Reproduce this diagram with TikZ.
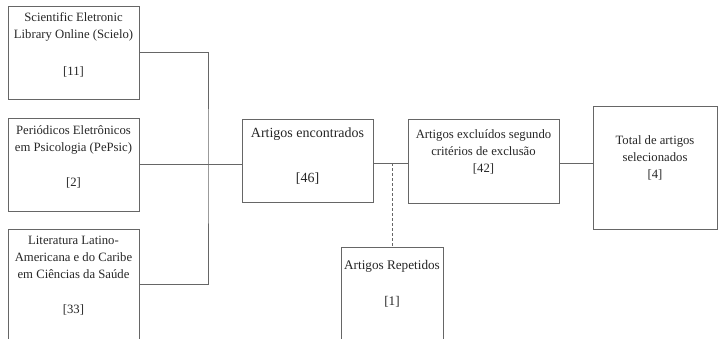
\documentclass[tikz,border=0pt]{standalone}
\usepackage{fontspec}
\setmainfont{Liberation Serif}
\usetikzlibrary{positioning}

\begin{document}
\begin{tikzpicture}[x=1pt, y=-1pt,
    bx/.style={draw=black!60, line width=0.9pt, inner sep=0pt},
    tx/.style={align=center, anchor=north, inner sep=0pt, text=black!85,
               font=\fontsize{12.7}{17}\selectfont},
    ln/.style={draw=black!60, line width=0.9pt},
    dl/.style={draw=black!60, line width=0.9pt, densely dashed},
]
\useasboundingbox (0,0) rectangle (718,338);
\clip (0,0) rectangle (718,338);

% === Column 0: databases ===
\node[bx, minimum width=131pt, minimum height=93pt] at (73.5,52.5) (scielo) {};
\node[bx, minimum width=131pt, minimum height=93pt] at (73.5,164.5) (pepsic) {};
\node[bx, minimum width=131pt, minimum height=110pt] at (73.5,284) (lilacs) {};

% === Column 1: found ===
\node[bx, minimum width=131pt, minimum height=83pt] at (307.5,160.5) (encontrados) {};

% === Column 2: excluded + repeated ===
\node[bx, minimum width=151pt, minimum height=84pt] at (483.5,161) (excluidos) {};
\node[bx, minimum width=102pt, minimum height=93pt] at (392,293.5) (repetidos) {};

% === Column 3: selected ===
\node[bx, minimum width=124pt, minimum height=123pt] at (655,167.5) (total) {};

% --- Texts ---
\node[tx, below=6.5pt of scielo.north] (scielo-t)
     {Scientific Eletronic\\Library Online (Scielo)\\[20pt]{[11]}};
\node[tx, below=7.5pt of pepsic.north] (pepsic-t)
     {Periódicos Eletrônicos\\em Psicologia (PePsic)\\[18pt]{[2]}};
\node[tx, below=7.5pt of lilacs.north] (lilacs-t)
     {Literatura Latino-\\Americana e do Caribe\\em Ciências da Saúde\\[18pt]{[33]}};
\node[tx, font=\fontsize{14}{18}\selectfont, below=9pt of encontrados.north] (encontrados-t)
     {Artigos encontrados\\[27pt]{[46]}};
\node[tx, below=10.5pt of excluidos.north] (excluidos-t)
     {Artigos excluídos segundo\\critérios de exclusão\\{[42]}};
\node[tx, font=\fontsize{13.2}{17}\selectfont, below=14pt of repetidos.north] (repetidos-t)
     {Artigos Repetidos\\[19pt]{[1]}};
\node[tx, below=29.5pt of total.north] (total-t)
     {Total de artigos\\selecionados\\{[4]}};

% --- Connectors ---
\coordinate (bus) at (208,164);
\coordinate (mid) at (392,163);
\draw[ln] (scielo.east) -| (bus) |- (lilacs.east);
\draw[ln] (pepsic.east) -- (pepsic.east -| encontrados.west);
\draw[ln] (encontrados.east |- mid) -- (excluidos.west |- mid);
\draw[dl] (mid) -- (mid |- repetidos.north);
\draw[ln] (excluidos.east |- mid) -- (total.west |- mid);

\end{tikzpicture}
\end{document}
